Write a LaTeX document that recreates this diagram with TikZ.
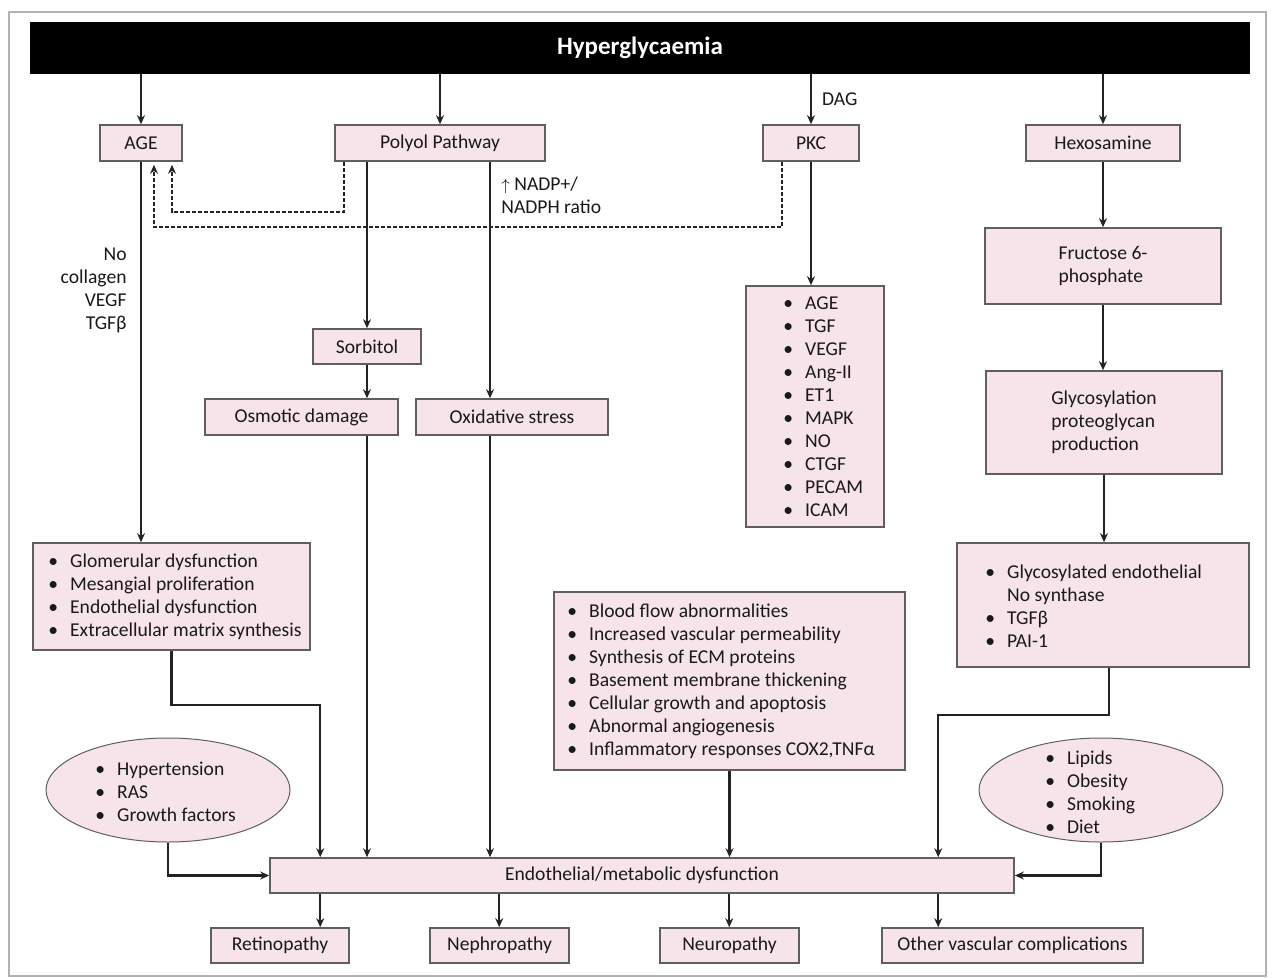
\documentclass[tikz,border=0pt]{standalone}
\usepackage{fontspec}
\setmainfont{Carlito}
\usetikzlibrary{arrows.meta,calc,shapes.geometric}
\definecolor{pinkfill}{RGB}{247,228,234}
\definecolor{edgegray}{RGB}{95,95,95}
\definecolor{linegray}{RGB}{35,35,35}
\definecolor{txtcol}{RGB}{25,25,25}
\newcommand{\bitem}{\textbullet\hspace{6pt}}
\newcommand{\bcont}{\phantom{\textbullet}\hspace{6pt}}
\begin{document}
\begin{tikzpicture}[x=0.5pt,y=-0.5pt,
 every node/.style={font=\fontsize{9.8}{11.5}\selectfont, text=txtcol},
 pbox/.style={draw=edgegray, line width=0.8pt, fill=pinkfill, inner sep=0pt},
 wh/.style 2 args={minimum width=#1pt, minimum height=#2pt},
 txt/.style={inner sep=0pt, align=left, anchor=west},
 conn/.style={draw=linegray, line width=1.05pt, -{Stealth[length=4.5pt,width=4pt]}},
 dconn/.style={conn, dash pattern=on 2pt off 1pt}
]
\useasboundingbox (0,0) rectangle (1272,978);
\draw[gray!60, line width=0.6pt] (9,12) rectangle (1266,976);

% top bar
\node[pbox, fill=black, draw=black, wh={609}{25}, text=white, font=\fontsize{12.5}{14}\selectfont\bfseries] (bar) at (640,48) {Hyperglycaemia};

% first row
\node[pbox, wh={41}{18}] (age) at (141,143) {AGE};
\node[pbox, wh={105}{18}] (polyol) at (440,143) {Polyol Pathway};
\node[pbox, wh={48}{18}] (pkc) at (811,143) {PKC};
\node[pbox, wh={77}{18}] (hexo) at (1103,143) {Hexosamine};

% polyol branch
\node[pbox, wh={54}{17.5}] (sorb) at (367,346.5) {Sorbitol};
\node[pbox, wh={96.5}{18}] (osmo) at (301.5,417) {Osmotic damage};
\node[pbox, wh={96}{18}] (oxid) at (512,417) {Oxidative stress};

% PKC list
\node[pbox, wh={69}{120.5}] (pkcl) at (815,406.5) {};
\node[txt] (pkclT) at (783,406.5) {\bitem AGE\\\bitem TGF\\\bitem VEGF\\\bitem Ang-II\\\bitem ET1\\\bitem MAPK\\\bitem NO\\\bitem CTGF\\\bitem PECAM\\\bitem ICAM};

% hexosamine branch
\node[pbox, wh={118}{38}, align=left] (fruc) at (1103,266) {Fructose 6-\\phosphate};
\node[pbox, wh={118}{51.5}, align=left] (glyc) at (1104,422.5) {Glycosylation\\proteoglycan\\production};
\node[pbox, wh={146}{62}] (glyd) at (1103,605) {};
\node[txt] (glydT) at (985,606) {\bitem Glycosylated endothelial\\\bcont No synthase\\\bitem TGFβ\\\bitem PAI-1};

% AGE result
\node[pbox, wh={138.5}{53.5}] (glom) at (171.5,596.5) {};
\node[txt] (glomT) at (48,596.5) {\bitem Glomerular dysfunction\\\bitem Mesangial proliferation\\\bitem Endothelial dysfunction\\\bitem Extracellular matrix synthesis};

% middle box
\node[pbox, wh={175.5}{89}] (mid) at (729.5,681) {};
\node[txt] (midT) at (567,681) {\bitem Blood flow abnormalities\\\bitem Increased vascular permeability\\\bitem Synthesis of ECM proteins\\\bitem Basement membrane thickening\\\bitem Cellular growth and apoptosis\\\bitem Abnormal angiogenesis\\\bitem Inflammatory responses COX2,TNFα};

% ellipses
\node[pbox, ellipse, wh={122}{52}, line width=0.5pt] (lell) at (168,790) {};
\node[txt] (lellT) at (95,791.5) {\bitem Hypertension\\\bitem RAS\\\bitem Growth factors};
\node[pbox, ellipse, wh={122}{52}, line width=0.5pt] (rell) at (1101,790) {};
\node[txt] (rellT) at (1045,792.5) {\bitem Lipids\\\bitem Obesity\\\bitem Smoking\\\bitem Diet};

% endothelial box and outcomes
\node[pbox, wh={372}{17.5}] (endo) at (642,875.5) {Endothelial/metabolic dysfunction};
\node[pbox, wh={69}{17.5}] (retino) at (280,945.5) {Retinopathy};
\node[pbox, wh={69.5}{17.5}] (nephro) at (499.5,945.5) {Nephropathy};
\node[pbox, wh={69.5}{17.5}] (neuro) at (729.5,945.5) {Neuropathy};
\node[pbox, wh={130.5}{17.5}] (other) at (1012.5,945.5) {Other vascular complications};

% labels
\node[anchor=east, align=right, inner sep=0pt] (nocol) at (127,290.5) {No\\collagen\\VEGF\\TGFβ};
\node[txt] (nadp) at (501,195) {{\fontsize{8}{8}\selectfont$\uparrow$} NADP+/\\NADPH ratio};

% helper coordinates
\coordinate (oxx) at ($(oxid.north)+(-22,0)$);
\coordinate (e1) at ($(endo.north west)+(51,0)$);
\coordinate (e4) at ($(endo.north west)+(669,0)$);
\coordinate (s1) at ($(endo.south west)+(51,0)$);
\coordinate (s2) at ($(endo.south west)+(230,0)$);
\coordinate (s3) at ($(endo.south west)+(460,0)$);
\coordinate (s4) at ($(endo.south west)+(669,0)$);

% connectors from bar
\draw[conn] (age.north |- bar.south) -- (age.north);
\draw[conn] (polyol.north |- bar.south) -- (polyol.north);
\draw[conn] (pkc.north |- bar.south) -- (pkc.north) node[midway, anchor=west, xshift=5pt, inner sep=0pt] (dag) {DAG};
\draw[conn] (hexo.north |- bar.south) -- (hexo.north);

% dashed feedback
\draw[dconn, shorten >=1.5pt] ($(polyol.south west)+(10,0)$) -- ++(0,50) -| ($(age.south)+(31,0)$);
\draw[dconn, shorten >=1.5pt] ($(pkc.south west)+(20,0)$) -- ++(0,65) -| ($(age.south)+(13,0)$);

% AGE
\draw[conn] (age.south) -- (age.south |- glom.north);

% polyol
\draw[conn] (sorb.north |- polyol.south) -- (sorb.north);
\draw[conn] (oxx |- polyol.south) -- (oxx);
\draw[conn] (sorb.south) -- (sorb.south |- osmo.north);
\draw[conn] (sorb.south |- osmo.south) -- (sorb.south |- endo.north);
\draw[conn] (oxx |- oxid.south) -- (oxx |- endo.north);

% PKC
\draw[conn] (pkc.south) -- (pkc.south |- pkcl.north);

% hexosamine
\draw[conn] (hexo.south) -- (fruc.north);
\draw[conn] (fruc.south) -- (fruc.south |- glyc.north);
\draw[conn] (glyc.south) -- (glyc.south |- glyd.north);
\draw[conn] ($(glyd.south)+(6,0)$) -- ++(0,47) -| (e4);

% into endothelial
\draw[conn] (glom.south) -- ++(0,54) -| (e1);
\draw[conn] (mid.south) -- (mid.south |- endo.north);
\draw[conn] (lell.south) |- (endo.west);
\draw[conn] (rell.south) |- (endo.east);

% outcomes
\draw[conn] (s1) -- (s1 |- retino.north);
\draw[conn] (s2) -- (s2 |- nephro.north);
\draw[conn] (s3) -- (s3 |- neuro.north);
\draw[conn] (s4) -- (s4 |- other.north);
\end{tikzpicture}
\end{document}
